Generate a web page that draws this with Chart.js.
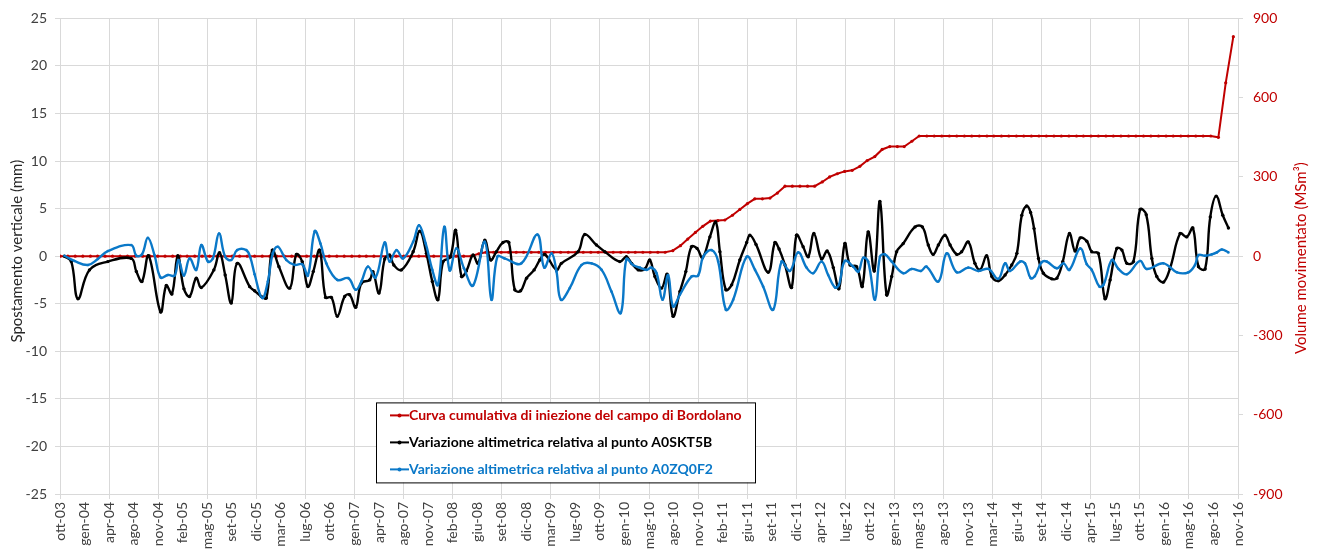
<!DOCTYPE html>
<html lang="it">
<head>
<meta charset="utf-8">
<title>Bordolano - iniezione e variazioni altimetriche</title>
<script src="https://cdn.jsdelivr.net/npm/chart.js@4.4.1/dist/chart.umd.min.js"></script>
<style>
  html, body { margin: 0; padding: 0; background: #fff; }
  #wrap { width: 1317px; height: 554px; }
</style>
</head>
<body>
<div id="wrap"><canvas id="grafico" width="1317" height="554"></canvas></div>
<script>
// asse x in giorni contati dal 6 ottobre 2003
const ORIGINE = Date.UTC(2003, 9, 6);
const GIORNO = 86400000;
const MESI = ['gen', 'feb', 'mar', 'apr', 'mag', 'giu', 'lug', 'ago', 'set', 'ott', 'nov', 'dic'];

// volume cumulativo iniettato (MSm3), un valore al mese da ott-03 a nov-16
const iniezioneMensile = [
  0, 0, 0,
  0, 0, 0, 0, 0, 0, 0, 0, 0, 0, 0, 0,
  0, 0, 0, 0, 0, 0, 0, 0, 0, 0, 0, 0,
  0, 0, 0, 0, 0, 0, 0, 0, 0, 0, 0, 0,
  0, 0, 0, 0, 0, 0, 0, 0, 0, 0, 0, 0,
  0, 0, 0, 0, 0, 9, 15, 15, 15, 15, 15, 15,
  15, 15, 15, 15, 15, 15, 15, 15, 15, 15, 15, 15,
  15, 15, 15, 15, 15, 15, 15, 21, 40, 65, 90, 113,
  133, 135, 137, 155, 177, 199, 217, 217, 220, 239, 265, 265,
  265, 265, 265, 281, 300, 312, 321, 325, 340, 362, 377, 404,
  415, 415, 415, 435, 455, 455, 455, 455, 455, 455, 455, 455,
  455, 455, 455, 455, 455, 455, 455, 455, 455, 455, 455, 455,
  455, 455, 455, 455, 455, 455, 455, 455, 455, 455, 455, 455,
  455, 455, 455, 455, 455, 455, 455, 455, 450, 656, 831
];

// punto A0SKT5B: giorno di acquisizione e spostamento (mm)
const giorniSKT = [
  18, 46, 73, 120, 195, 290, 311, 334, 361, 410, 433, 456, 480, 505, 528, 555, 576, 627, 650, 673,
  698, 722, 773, 793, 820, 841, 865, 892, 936, 963, 987, 1010, 1032, 1058, 1082, 1106, 1130, 1160, 1180, 1205,
  1228, 1262, 1275, 1300, 1323, 1343, 1360, 1391, 1439, 1466, 1493, 1517, 1540, 1561, 1590, 1612, 1636, 1656, 1683, 1703,
  1731, 1755, 1778, 1805, 1829, 1853, 1877, 1901, 1932, 1955, 1975, 2023, 2043, 2111, 2138, 2186, 2220, 2281, 2308, 2329,
  2356, 2383, 2403, 2424, 2451, 2474, 2498, 2526, 2550, 2573, 2596, 2618, 2648, 2672, 2689, 2713, 2737, 2770, 2798, 2811,
  2836, 2886, 2913, 2930, 2954, 2981, 3001, 3028, 3049, 3072, 3103, 3126, 3151, 3174, 3198, 3219, 3246, 3269, 3293, 3318,
  3341, 3368, 3389, 3409, 3436, 3484, 3514, 3538, 3558, 3579, 3606, 3627, 3654, 3674, 3701, 3728, 3749, 3776, 3797, 3823,
  3851, 3878, 3899, 3919, 3939, 3955, 3969, 3987, 4007, 4041, 4062, 4086, 4113, 4136, 4157, 4184, 4204, 4231, 4258, 4279,
  4306, 4327, 4347, 4374, 4401, 4426, 4449, 4469, 4496, 4523, 4564, 4591, 4616, 4639, 4666, 4687, 4711, 4738, 4761
];
const mmSKT = [
  0, -0.57, -4.47, -1.44, -0.57, -0.23, -1.6, -2.66, 0.05, -5.86, -3.08, -3.98, 0.05, -3.43, -4.23, -2.31, -3.29, -1.44, 0.37, -1.97,
  -4.92, -0.75, -3.2, -3.64, -4.23, -4.4, 0.64, -1.1, -3.36, 0.19, -0.57, -3.19, -1.62, 0.64, -4.33, -4.33, -6.32, -4.23, -4.05, -5.38,
  -2.84, -2.49, -1.62, -3.88, -0.3, 0.12, -0.92, -1.44, 0.47, 2.63, 0.3, -2.66, -4.58, -0.57, -0.1, 2.73, -2.14, -1.55, 0.12, -0.75,
  1.69, -0.4, 0.47, 1.44, 1.44, -3.53, -3.64, -2.31, -1.44, -0.4, 0.19, -1.44, -0.75, 0.47, 2.28, 1.17, 0.47, -0.57, -0.05, -0.75,
  -1.44, -1.34, -0.4, -2.14, -3.36, -1.9, -6.32, -3.71, -1.62, 0.99, 0.82, -0.16, 2.03, 3.6, 0.47, -3.53, -3.01, -0.4, 1.44, 2.21,
  1.24, -1.69, 1.44, 0.75, -0.92, -3.29, 2.21, 0.99, -0.05, 2.38, -0.3, 0.54, -1.2, -3.43, 1.34, -0.92, -1.1, -3.19, 2.56, -1.55,
  5.76, -4.05, -2.14, 0.47, 1.34, 3.08, 3.08, 1.17, 0.19, 1.17, 2.21, 1.17, 0.19, 0.47, 1.51, -0.75, -1.44, 0.05, -2.14, -2.59,
  -1.97, -0.92, 0.3, 4.3, 5.27, 4.6, 2.9, -0.23, -1.79, -2.38, -2.31, -0.57, 2.38, 0.54, 1.93, 1.58, 0.47, 0.3, -4.47, -2.49,
  0.82, 0.64, -0.75, -0.57, 4.92, 4.37, -0.23, -2.14, -2.73, -1.27, 2.38, 2.03, 2.97, -1.1, -1.34, 4.12, 6.32, 4.3, 2.97
];

// punto A0ZQ0F2: giorno di acquisizione e spostamento (mm)
const giorniZQ = [
  18, 59, 114, 154, 195, 290, 311, 334, 358, 385, 410, 440, 467, 483, 505, 528, 555, 576, 603, 623,
  648, 673, 698, 722, 759, 775, 793, 824, 847, 867, 888, 922, 956, 987, 1010, 1038, 1061, 1085, 1130, 1175,
  1205, 1228, 1255, 1286, 1323, 1343, 1371, 1398, 1439, 1463, 1490, 1517, 1540, 1566, 1588, 1615, 1646, 1683, 1731, 1758,
  1782, 1811, 1880, 1945, 1973, 2003, 2023, 2041, 2077, 2125, 2166, 2207, 2247, 2285, 2308, 2335, 2363, 2390, 2410, 2431,
  2455, 2478, 2498, 2526, 2573, 2600, 2621, 2655, 2682, 2713, 2743, 2798, 2832, 2865, 2906, 2940, 2974, 3008, 3042, 3069,
  3103, 3130, 3158, 3174, 3198, 3232, 3253, 3273, 3293, 3321, 3341, 3361, 3389, 3436, 3470, 3508, 3531, 3579, 3613, 3654,
  3701, 3742, 3783, 3823, 3851, 3871, 3912, 3932, 3955, 3972, 4000, 4021, 4062, 4089, 4113, 4157, 4184, 4204, 4235, 4252,
  4286, 4313, 4347, 4401, 4428, 4496, 4551, 4598, 4625, 4639, 4666, 4693, 4714, 4734, 4761
];
const mmZQ = [
  0.05, -0.5, -0.92, -0.3, 0.54, 1.17, 0.05, 0.19, 1.93, 0.12, -2.24, -1.97, -2.04, -0.4, -2.04, -0.23, -1.44, 1.17, -0.57, -0.23,
  2.38, -0.05, -0.4, 0.64, 0.64, -0.1, -1.9, -4.4, -2.66, 0.3, 0.99, -0.4, -0.92, -0.85, -2.04, 2.63, 1.34, -0.75, -2.49, -2.31,
  -3.53, -2.66, -1.1, -2.24, 1.44, -0.57, 0.64, -0.23, 1.51, 3.25, 1.34, -1.44, -3.01, 3.1, -1.5, 0.82, -1.27, -3.08, 1.51, -4.58,
  -0.05, -0.23, -0.75, 2.28, -1.2, 0.3, -1.62, -4.58, -3.36, -0.92, -0.75, -1.44, -3.71, -5.97, -0.3, -0.92, -1.2, -1.44, -1.2, -1.79,
  -4.58, -1.97, -5.27, -4.05, -2.14, -2.04, -0.05, 0.64, -0.57, -5.62, -4.58, -0.05, -1.44, -3.19, -5.62, -0.57, -1.55, 0.4, -1.2, -1.79,
  -0.57, -1.97, -3.29, -3.01, -0.5, -1.1, -1.62, -0.16, -0.57, -4.58, -0.05, 0.19, -0.57, -1.79, -1.34, -1.55, -1.1, -2.66, 0.3, -1.69,
  -1.2, -1.55, -1.34, -2.38, -0.75, -1.55, -0.57, -0.75, -2.3, -2.1, -0.64, -0.57, -1.27, -0.75, -1.44, 0.82, -0.85, -1.44, -3.19, -3.01,
  -0.4, -1.34, -1.9, -0.5, -1.34, -0.75, -1.69, -1.69, -0.92, 0.12, 0.05, 0.19, 0.4, 0.71, 0.4
];

const ROSSO = '#c00000';
const BLU = '#0a78c8';
const FONT = 'Lato, "Liberation Sans", sans-serif';

const coppie = (xs, ys) => xs.map((x, i) => ({ x, y: ys[i] }));
const giorniMese = iniezioneMensile.map((_, i) => (Date.UTC(2003, 9 + i, 7) - ORIGINE) / GIORNO);

function etichettaData(v) {
  const d = new Date(ORIGINE + v * GIORNO);
  return MESI[d.getUTCMonth()] + '-' + String(d.getUTCFullYear()).slice(2);
}

// legenda nel riquadro bianco dentro l'area del grafico
const legendaInterna = {
  id: 'legendaInterna',
  afterDraw(chart) {
    const { ctx, chartArea } = chart;
    const x = chartArea.left + 316, y = chartArea.top + 384, w = 379, h = 80;
    ctx.save();
    ctx.fillStyle = '#fff';
    ctx.fillRect(x, y, w, h);
    ctx.strokeStyle = '#000';
    ctx.lineWidth = 1;
    ctx.strokeRect(x + 0.5, y + 0.5, w, h);
    ctx.font = 'bold 14px ' + FONT;
    ctx.textBaseline = 'middle';
    chart.data.datasets.forEach((ds, i) => {
      const cy = y + 13 + i * 27;
      ctx.strokeStyle = ds.borderColor;
      ctx.lineWidth = 2;
      ctx.beginPath();
      ctx.moveTo(x + 14, cy);
      ctx.lineTo(x + 33, cy);
      ctx.stroke();
      ctx.fillStyle = ds.borderColor;
      ctx.beginPath();
      ctx.arc(x + 23.5, cy, 2, 0, Math.PI * 2);
      ctx.fill();
      ctx.fillText(ds.label, x + 33, cy);
    });
    ctx.restore();
  }
};

// titoli verticali dei due assi y, entrambi letti dal basso verso l'alto
const titoliAssi = {
  id: 'titoliAssi',
  afterDraw(chart) {
    const { ctx, chartArea } = chart;
    const cy = (chartArea.top + chartArea.bottom) / 2;
    ctx.save();
    ctx.font = '15px ' + FONT;
    ctx.textAlign = 'center';
    ctx.textBaseline = 'middle';
    ctx.fillStyle = '#262626';
    ctx.translate(17, cy - 5);
    ctx.rotate(-Math.PI / 2);
    ctx.fillText('Spostamento verticale (mm)', 0, 0);
    ctx.restore();
    ctx.save();
    ctx.font = '15px ' + FONT;
    ctx.textAlign = 'center';
    ctx.textBaseline = 'middle';
    ctx.fillStyle = ROSSO;
    ctx.translate(1301, cy + 2);
    ctx.rotate(-Math.PI / 2);
    ctx.fillText('Volume movimentato (MSm³)', 0, 0);
    ctx.restore();
  }
};

Chart.defaults.font.family = FONT;
Chart.defaults.font.size = 14;

new Chart(document.getElementById('grafico'), {
  type: 'line',
  data: {
    datasets: [
      {
        label: 'Curva cumulativa di iniezione del campo di Bordolano',
        data: coppie(giorniMese, iniezioneMensile),
        yAxisID: 'y1',
        borderColor: ROSSO,
        backgroundColor: ROSSO,
        borderWidth: 2,
        pointRadius: 1.6,
        pointBorderWidth: 0,
        tension: 0,
        order: 3
      },
      {
        label: 'Variazione altimetrica relativa al punto A0SKT5B',
        data: coppie(giorniSKT, mmSKT),
        yAxisID: 'y',
        borderColor: '#000',
        backgroundColor: '#000',
        borderWidth: 2.4,
        pointRadius: 1.7,
        pointBorderWidth: 0,
        tension: 0.4,
        order: 2
      },
      {
        label: 'Variazione altimetrica relativa al punto A0ZQ0F2',
        data: coppie(giorniZQ, mmZQ),
        yAxisID: 'y',
        borderColor: BLU,
        backgroundColor: BLU,
        borderWidth: 2.4,
        pointRadius: 1.3,
        pointBorderWidth: 0,
        tension: 0.4,
        order: 1
      }
    ]
  },
  options: {
    responsive: false,
    animation: false,
    devicePixelRatio: 1,
    layout: { padding: { top: 15, left: 0, right: 0, bottom: 0 } },
    plugins: {
      legend: { display: false },
      tooltip: { enabled: false }
    },
    scales: {
      x: {
        type: 'linear',
        min: 0,
        max: 4800,
        afterFit: s => { s.height = 60; },
        grid: {
          color: c => (c.index % 2 === 0 ? '#d9d9d9' : 'rgba(0,0,0,0)'),
          tickLength: 5
        },
        border: { color: '#d9d9d9' },
        ticks: {
          stepSize: 100,
          autoSkip: false,
          minRotation: 90,
          maxRotation: 90,
          padding: 3,
          color: '#404040',
          font: { size: 14 },
          callback: etichettaData
        }
      },
      y: {
        position: 'left',
        min: -25,
        max: 25,
        afterFit: s => { s.width = 60; },
        grid: { color: '#d9d9d9', tickLength: 5 },
        border: { color: '#d9d9d9' },
        ticks: { stepSize: 5, padding: 8, color: '#404040' }
      },
      y1: {
        position: 'right',
        min: -900,
        max: 900,
        afterFit: s => { s.width = 79; },
        grid: { drawOnChartArea: false, color: '#d9d9d9', tickLength: 5 },
        border: { color: '#d9d9d9' },
        ticks: { stepSize: 300, padding: 10, color: ROSSO }
      }
    }
  },
  plugins: [legendaInterna, titoliAssi]
});
</script>
</body>
</html>
